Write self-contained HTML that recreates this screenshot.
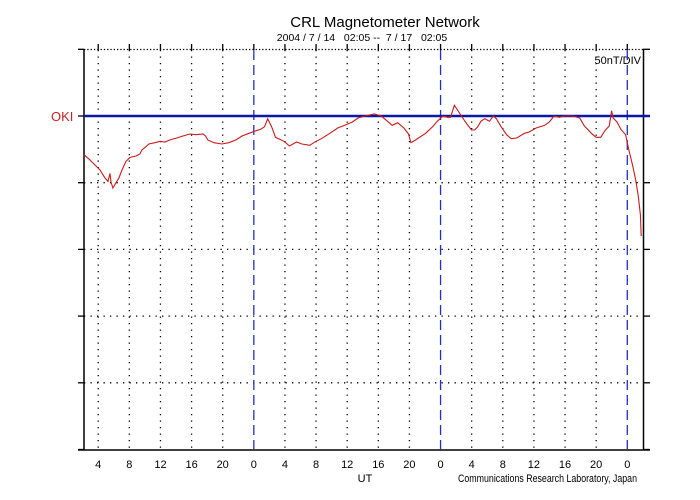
<!DOCTYPE html>
<html><head><meta charset="utf-8"><style>
html,body{margin:0;padding:0;background:#fff;}
svg{display:block;font-family:"Liberation Sans",sans-serif;}
</style></head><body>
<svg id="chart" width="700" height="500">
<text x="385" y="27" font-size="15" text-anchor="middle">CRL Magnetometer Network</text>
<text x="362" y="41" font-size="10.5" text-anchor="middle" xml:space="preserve">2004 / 7 / 14   02:05 --  7 / 17   02:05</text>
<text x="51" y="121" font-size="13" fill="#cc2020">OKI</text>
<text x="641" y="64" font-size="11" text-anchor="end">50nT/DIV</text>
<text x="365" y="482" font-size="11" text-anchor="middle">UT</text>
<text x="458" y="482" font-size="11" textLength="179" lengthAdjust="spacingAndGlyphs">Communications Research Laboratory, Japan</text>
<g id="grid"></g>
<g id="marks"></g>
</svg>
<script>
const hours = [0.09,0.86,1.63,2.14,2.79,3.17,3.43,3.56,3.81,4.20,4.58,4.97,5.48,6.00,6.77,7.28,7.53,8.05,8.43,9.20,9.84,10.5,11.1,12.0,12.8,13.7,14.5,15.4,15.7,16.0,16.8,17.8,18.7,19.6,20.4,21.3,22.2,22.8,23.3,23.7,24.2,24.7,25.8,26.5,27.4,28.1,29.1,29.9,30.6,31.7,32.7,33.6,34.6,35.3,36.2,37.4,38.3,39.1,39.7,40.4,41.2,41.8,42.1,42.7,44.0,44.9,45.5,46.2,46.8,47.2,47.7,48.1,48.6,49.3,49.9,50.3,50.7,51.1,51.6,52.2,52.7,53.1,53.7,54.4,55.0,55.7,56.7,57.3,58.2,59.3,59.9,60.5,61.2,61.8,62.9,63.8,64.4,65.3,65.9,66.5,67.1,67.6,67.9,68.1,68.6,69.1,69.7,70.1,70.6,71.0,71.3,71.6,71.7];
const nT = [-29,-33,-37.5,-40.5,-46.5,-49,-43,-49.5,-54,-50,-46.5,-40.5,-34,-31,-30,-28.5,-25.5,-23,-21,-20,-19,-19.5,-18,-16.5,-15,-13.5,-14,-13.5,-15,-18,-20,-21,-20,-18,-15,-13,-11,-10,-8,-2,-8,-16,-19,-22.5,-19.5,-21,-22,-19,-17,-13,-9,-7,-4.5,-1.5,0,1.5,0,-4,-7,-5,-9,-13.5,-20,-18,-13,-8,-4,0,-1,-1,8,4.5,0,-6,-10.5,-10.5,-8,-4,-2,-4,0,-2,-8,-14,-17,-16.5,-13,-12,-9,-7,-4.5,0,-1,0,0,-1.5,-7.5,-13,-16,-16,-10.5,-7.5,4,-1.5,-4.5,-10,-14,-25,-37,-48,-59,-74,-90];
const tickLabels = ["4","8","12","16","20","0","4","8","12","16","20","0","4","8","12","16","20","0"];
const startHourOfDay = 2.0833;
const NS="http://www.w3.org/2000/svg";
const X0=83.3, PXH=(643.5-83.3)/72, Y0=116, PXNT=66.7/50;
const xs=h=>X0+h*PXH, ys=v=>Y0-v*PXNT;
const grid=document.getElementById('grid'), marks=document.getElementById('marks');
function mk(p,tag,a){const e=document.createElementNS(NS,tag);for(const k in a)e.setAttribute(k,a[k]);p.appendChild(e);return e;}
const hy=[49.3,116,182.7,249.4,316.1,382.8,449.5];
hy.forEach((y,i)=>{
  if(i>1&&i<6){const l=mk(grid,'line',{x1:84,x2:643,y1:y,y2:y,stroke:'#000','stroke-width':1.3,'stroke-dasharray':'1.3 5.2'});
  
  }
  const t=mk(grid,'line',{x1:78,x2:84,y1:y,y2:y,stroke:'#000','stroke-width':1.3});
  
  
  const t2=mk(grid,'line',{x1:643,x2:650,y1:y,y2:y,stroke:'#000','stroke-width':1.3});
  
  
});
const topBorder=mk(grid,'line',{x1:84,x2:643,y1:49.5,y2:49.5,stroke:'#000','stroke-width':1.3,'stroke-dasharray':'1.3 2'});


tickLabels.forEach((lab,i)=>{
  const h=(i+1)*4-startHourOfDay;
  const x=xs(h);
  const isDay=lab==="0";
  const l=mk(grid,'line',{x1:x,x2:x,y1:50,y2:449,stroke:isDay?'#2030c0':'#000','stroke-width':1.3,'stroke-dasharray':isDay?'10 5':'1.3 5.2'});
  
  
  const tk=mk(grid,'line',{x1:x,x2:x,y1:44,y2:50,stroke:'#000','stroke-width':1.3});
  
  
  const tx=mk(grid,'text',{x:x,y:468,'font-size':11,'text-anchor':'middle'});
  tx.textContent=lab;
  
  
});
const lb=mk(grid,'line',{x1:84,x2:84,y1:49,y2:450,stroke:'#000','stroke-width':1.5});


const rb=mk(grid,'line',{x1:643.5,x2:643.5,y1:49,y2:450,stroke:'#000','stroke-width':1.5});


const bb=mk(grid,'line',{x1:78,x2:650,y1:450,y2:450,stroke:'#000','stroke-width':1.5});


const base=mk(marks,'line',{x1:84,x2:650,y1:ys(0),y2:ys(0),stroke:'#0a18a8','stroke-width':2.4});


const n=Math.min(hours.length,nT.length);
const pts=hours.slice(0,n).map((h,i)=>xs(h).toFixed(1)+','+ys(nT[i]).toFixed(1)).join(' ');
const pl=mk(marks,'polyline',{points:pts,fill:'none',stroke:'#cc1a1a','stroke-width':1.1});


</script>
</body></html>
